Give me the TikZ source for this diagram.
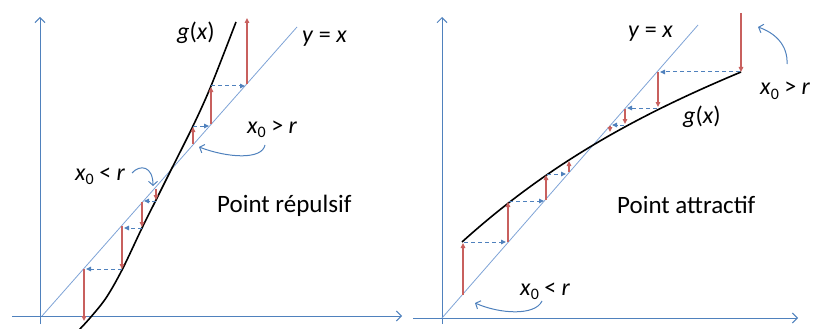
\documentclass[tikz,border=0pt]{standalone}
\usepackage{fontspec}
\setmainfont{Carlito}
\usetikzlibrary{arrows.meta}
\definecolor{axisblue}{HTML}{4F81BD}
\definecolor{diagblue}{HTML}{7FA3D6}
\definecolor{redc}{HTML}{C8605E}
\definecolor{dashblue}{HTML}{4F81BD}
\newcommand\xzero{\textit{x}\raisebox{-0.4ex}{\fontsize{16}{16}\selectfont 0}}
\tikzset{
  axis/.style={draw=axisblue, line width=1pt, -{Straight Barb[length=5pt,width=10pt]}},
  diag/.style={draw=diagblue, line width=0.8pt},
  gcurve/.style={draw=black, line width=1.6pt},
  redarr/.style={draw=redc, line width=1.3pt, -{Triangle[length=5pt,width=4.5pt]}},
  dasharr/.style={draw=dashblue, line width=1pt, dash pattern=on 4pt off 3pt, -{Triangle[length=5pt,width=4.5pt]}},
  bendarr/.style={draw=axisblue, line width=1pt, -{Straight Barb[length=4pt,width=9pt]}},
  lab/.style={font=\fontsize{24}{24}\selectfont, inner sep=0pt, anchor=base west},
  big/.style={font=\fontsize{25}{25}\selectfont, inner sep=0pt, anchor=base west}
}
\begin{document}
\begin{tikzpicture}[x=1pt,y=-1pt]
\useasboundingbox (0,0) rectangle (814,329);
% ---------------- left panel ----------------
\coordinate (LYt) at (40,17);
\coordinate (LYb) at (40,324);
\coordinate (LXl) at (12,316);
\coordinate (LXr) at (402,316);
\draw[axis] (LYb) -- (LYt);
\draw[axis] (LXl) -- (LXr);
\coordinate (LD0) at (42,316);
\coordinate (LD1) at (297,27);
\draw[diag] (LD0) -- (LD1);
\draw[gcurve] plot[smooth, tension=0.55] coordinates {(78,331) (90,318) (106,298) (122,270) (142,228) (156,200) (170,172) (193,126) (211,86) (236,22)};
% lower cobweb (x0 < r)
\draw[redarr] (156,189) -- (156,200);
\draw[dasharr] (156,201) -- (144,201);
\draw[redarr] (142,202) -- (142,227);
\draw[dasharr] (142,228) -- (124,228);
\draw[redarr] (122,226) -- (122,269);
\draw[dasharr] (122,269) -- (86,269);
\draw[redarr] (84,269) -- (84,321);
% upper cobweb (x0 > r)
\draw[redarr] (193,144) -- (193,127);
\draw[dasharr] (193,126) -- (209,126);
\draw[redarr] (211,124) -- (211,87);
\draw[dasharr] (211,86) -- (245,86);
\draw[redarr] (247,84) -- (247,18);
% labels
\node[lab] (lg) at (177,40) {\textit{g}(\textit{x})};
\node[lab] (ly) at (302,43) {\textit{y} = \textit{x}};
\node[lab] (lgt) at (247,133) {\xzero\ > \textit{r}};
\node[lab] (llt) at (75,180) {\xzero\ < \textit{r}};
\node[big] (lrep) at (217,212) {Point répulsif};
\draw[bendarr] (265,145) .. controls (262,160) and (228,158) .. (199,147);
\draw[bendarr] (132,173) .. controls (140,164) and (153,166) .. (153,186);
% ---------------- right panel ----------------
\coordinate (RYt) at (442,17);
\coordinate (RYb) at (442,324);
\coordinate (RXl) at (413,318);
\coordinate (RXr) at (798,318);
\draw[axis] (RYb) -- (RYt);
\draw[axis] (RXl) -- (RXr);
\coordinate (RD0) at (442,318);
\coordinate (RD1) at (698,25);
\draw[diag] (RD0) -- (RD1);
\coordinate (RG0) at (462,242);
\coordinate (RG1) at (741,72);
\draw[gcurve] (RG0) .. controls (555,158) and (648,111) .. (RG1);
% lower cobweb
\draw[redarr] (463,295) -- (463,243);
\draw[dasharr] (464,242) -- (506,242);
\draw[redarr] (508,242) -- (508,202);
\draw[dasharr] (509,201) -- (544,201);
\draw[redarr] (546,200) -- (546,175);
\draw[dasharr] (547,174) -- (566,174);
\draw[redarr] (569,172) -- (569,161);
% upper cobweb
\draw[redarr] (741,13) -- (741,72);
\draw[dasharr] (740,72) -- (660,72);
\draw[redarr] (658,72) -- (658,107);
\draw[dasharr] (657,108) -- (627,108);
\draw[redarr] (625,109) -- (625,124);
\draw[dasharr] (624,125) -- (612,125);
\draw[redarr] (610,126) -- (610,132);
% labels
\node[lab] (rg) at (683,123) {\textit{g}(\textit{x})};
\node[lab] (ry) at (628,38) {\textit{y} = \textit{x}};
\node[lab] (rgt) at (760,95) {\xzero\ > \textit{r}};
\node[lab] (rlt) at (520,295) {\xzero\ < \textit{r}};
\node[big] (ratt) at (617,213) {Point attractif};
\draw[bendarr] (787,64) .. controls (788,45) and (775,33) .. (758,27);
\draw[bendarr] (542,301) .. controls (535,316) and (500,314) .. (475,303);
\end{tikzpicture}
\end{document}
